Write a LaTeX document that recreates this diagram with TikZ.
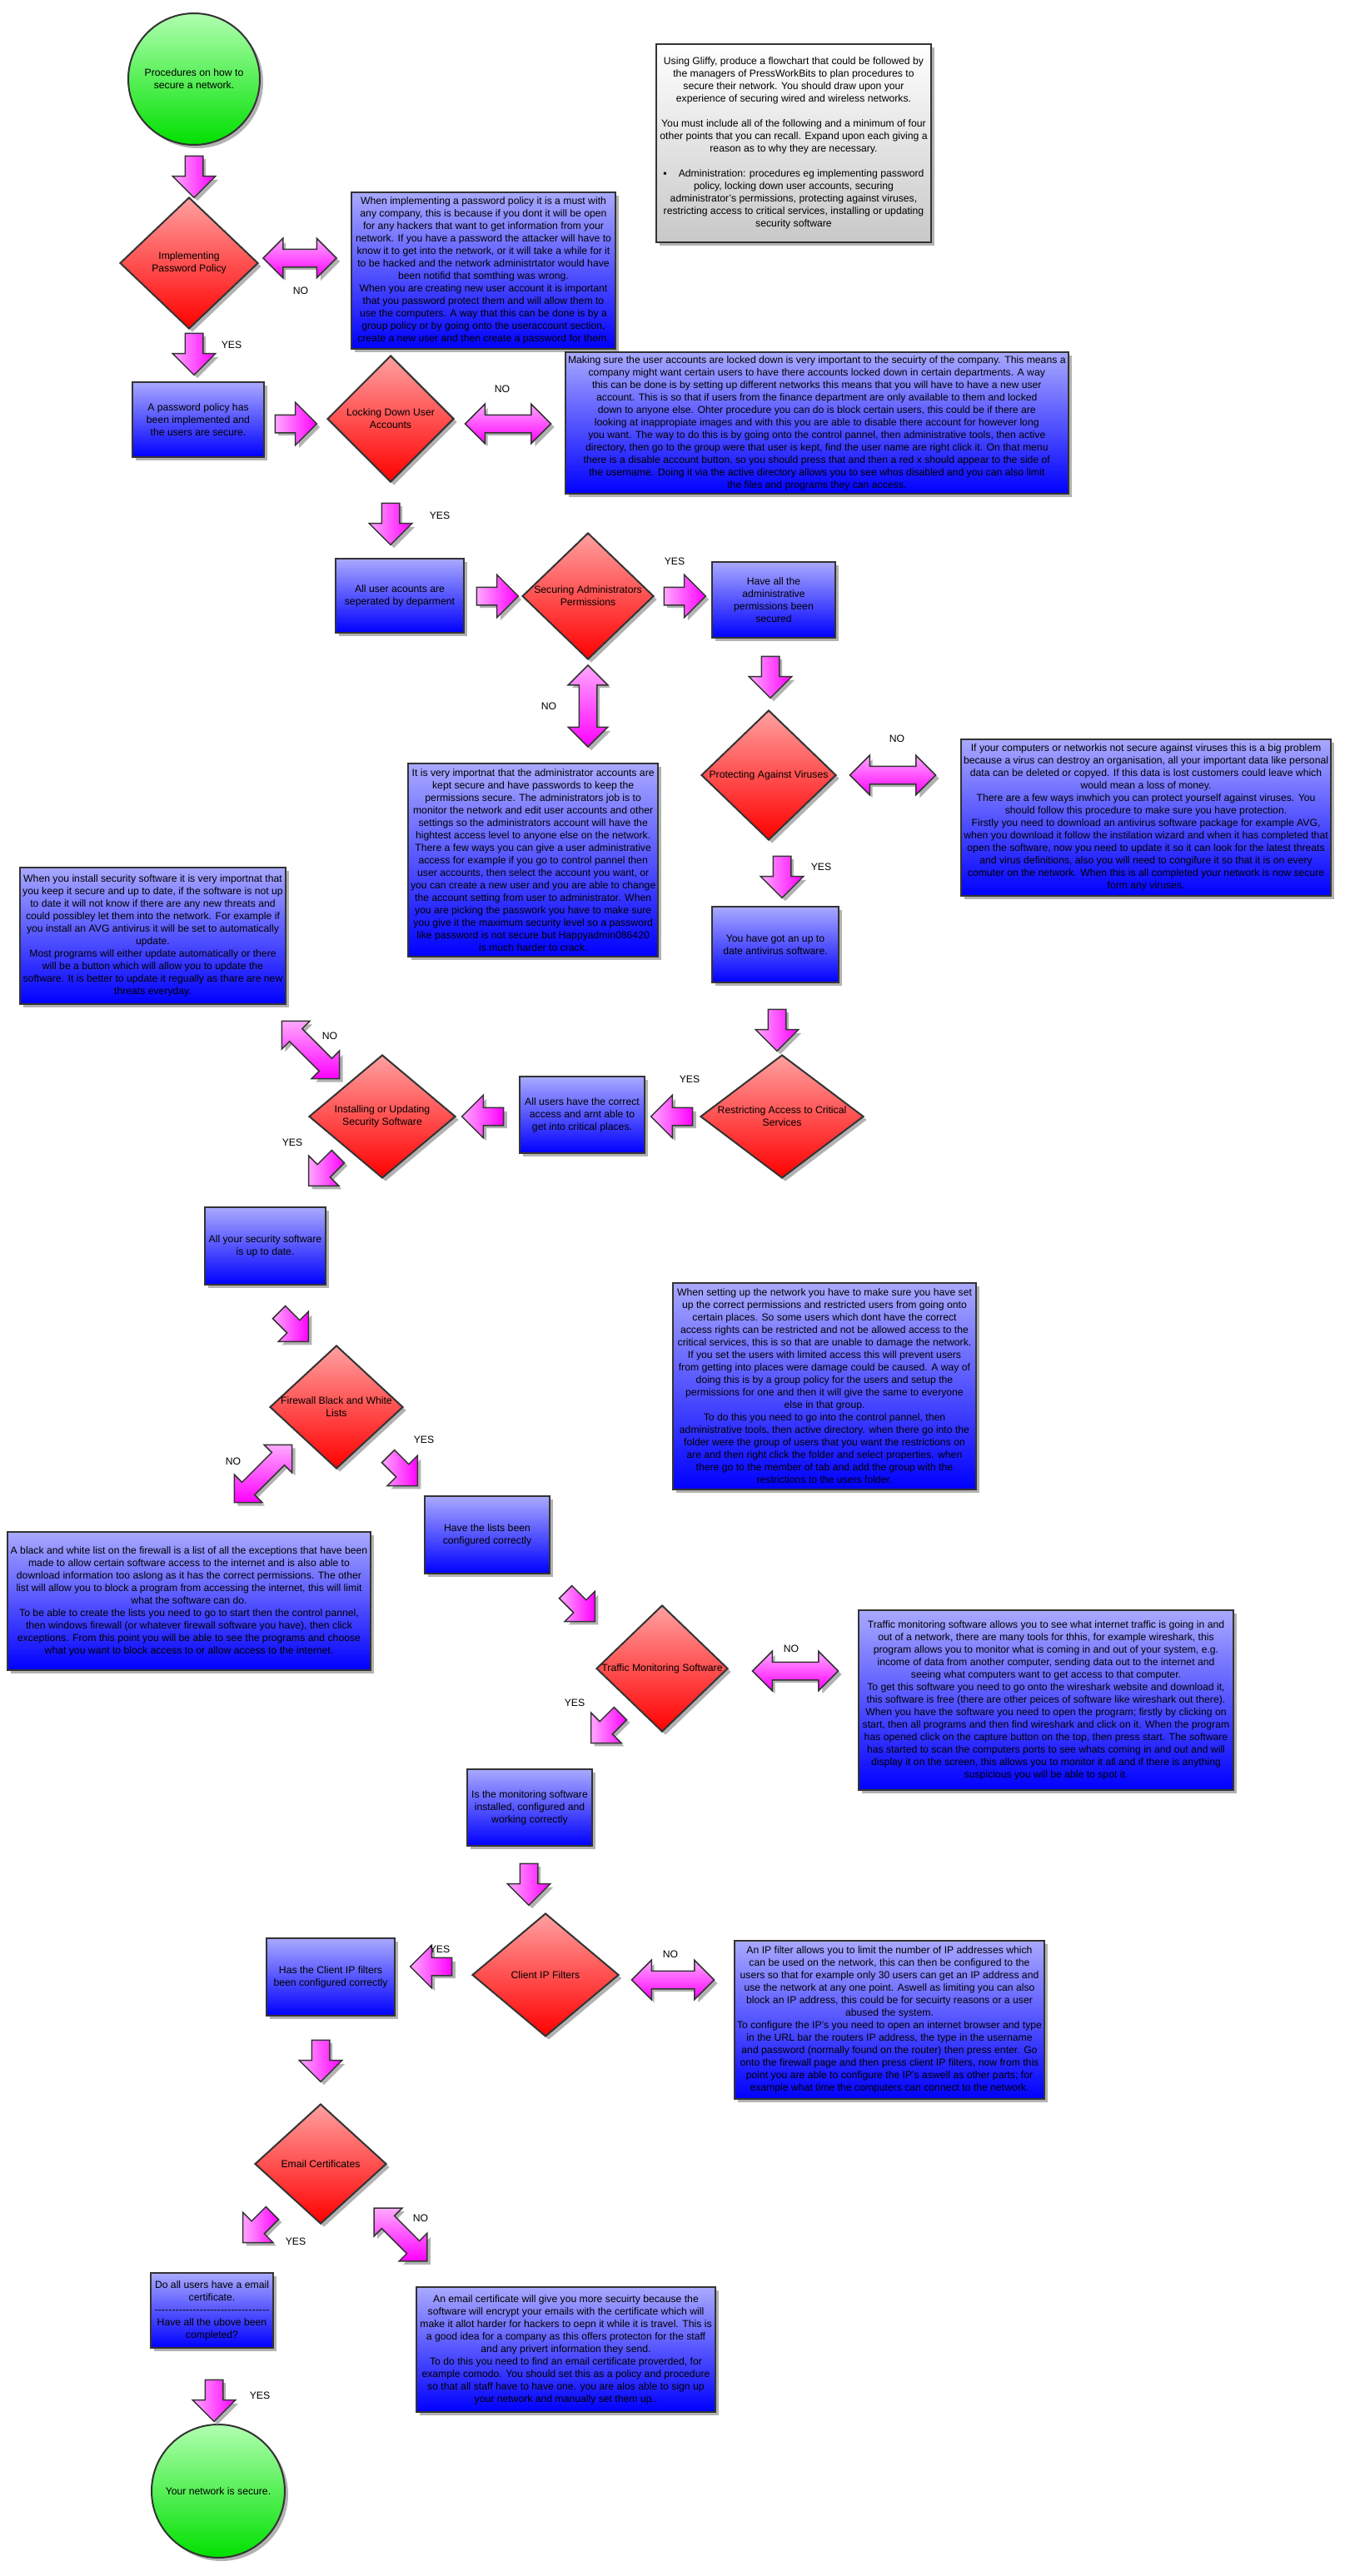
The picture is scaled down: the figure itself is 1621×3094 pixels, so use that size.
\documentclass[tikz,border=0pt]{standalone}
\usepackage{fontspec}
\setmainfont{Liberation Sans}
\usetikzlibrary{shapes.geometric}
\usetikzlibrary{shapes.arrows}
\usetikzlibrary{shadows}

\definecolor{edge}{HTML}{333333}
\definecolor{boxtop}{HTML}{A9A9FF}
\definecolor{boxbot}{HTML}{0000FF}
\definecolor{redtop}{HTML}{FFA0A0}
\definecolor{redbot}{HTML}{FF0000}
\definecolor{greentop}{HTML}{B0FFB0}
\definecolor{greenbot}{HTML}{00E000}
\definecolor{pinktop}{HTML}{FFA8FF}
\definecolor{pinkbot}{HTML}{FF00FF}
\definecolor{notebot}{HTML}{C8C8C8}

\newcommand{\flowfont}{\fontsize{12.2}{15}\selectfont}

\begin{document}
\begin{tikzpicture}[x=1pt,y=-1pt,
        every node/.style={font=\flowfont},
        shadowed/.style={drop shadow={shadow xshift=4pt,shadow yshift=-4pt,fill=black!30,opacity=1}},
        infobox/.style={rectangle,draw=edge,line width=2pt,top color=boxtop,bottom color=boxbot,
            align=center,inner sep=3pt,anchor=north west,shadowed},
        stepbox/.style={infobox},
        note/.style={rectangle,draw=edge,line width=2pt,top color=white,bottom color=notebot,
            align=center,inner sep=3pt,anchor=north west,shadowed},
        decision/.style={diamond,draw=edge,line width=2pt,top color=redtop,bottom color=redbot,
            inner sep=0pt,shadowed},
        dtext/.style={align=center,font=\flowfont},
        terminal/.style={circle,draw=edge,line width=2pt,top color=greentop,bottom color=greenbot,
            align=center,minimum size=158pt,inner sep=0pt,shadowed},
        sarrowshape/.style={single arrow,minimum height=50pt,
            single arrow head extend=15pt,inner xsep=0pt,inner ysep=10pt},
        sarrow/.style={sarrowshape,draw=edge,line width=1.5pt,left color=pinktop,right color=pinkbot},
        darrowshape/.style={double arrow,double arrow head extend=13pt,inner xsep=0pt,inner ysep=10pt},
        darrow/.style={darrowshape,draw=edge,line width=1.5pt,top color=pinktop,bottom color=pinkbot},
        ghost/.style={fill=black!30},
        tag/.style={font=\flowfont}]

        \useasboundingbox (0,0) rectangle (1621,3094);
        \fill[white] (0,0) rectangle (1621,3094);

        % start and end of the chart
        \node[terminal] (start) at (233,95) {Procedures on how to\\secure a network.};
        \node[terminal,minimum size=160pt] (finish) at (262,2992) {Your network is secure.};

        % the task given
        \node[note,minimum width=330pt,minimum height=238pt] (task) at (787,52) {Using Gliffy, produce a flowchart that could be followed by\\
            the managers of PressWorkBits to plan procedures to\\
            secure their network. You should draw upon your\\
            experience of securing wired and wireless networks.\\[15pt]
            You must include all of the following and a minimum of four\\
            other points that you can recall. Expand upon each giving a\\
            reason as to why they are necessary.\\[15pt]
            ▪\hspace{14pt}Administration: procedures eg implementing password\\
            policy, locking down user accounts, securing\\
            administrator's permissions, protecting against viruses,\\
            restricting access to critical services, installing or updating\\
            security software};

        % the decisions
        \node[decision,minimum width=166pt,minimum height=158pt,label={[dtext]center:{Implementing\\Password Policy}}] (d1) at (227,316) {};
        \node[decision,minimum width=152pt,minimum height=152pt,label={[dtext]center:{Locking Down User\\Accounts}}] (d2) at (469,503) {};
        \node[decision,minimum width=158pt,minimum height=152pt,label={[dtext]center:{Securing Administrators\\Permissions}}] (d3) at (706,716) {};
        \node[decision,minimum width=162pt,minimum height=156pt,label={[dtext]center:{Protecting Against Viruses}}] (d4) at (923,931) {};
        \node[decision,minimum width=196pt,minimum height=148pt,label={[dtext]center:{Restricting Access to Critical\\Services}}] (d5) at (939,1341) {};
        \node[decision,minimum width=176pt,minimum height=148pt,label={[dtext]center:{Installing or Updating\\Security Software}}] (d6) at (459,1341) {};
        \node[decision,minimum width=160pt,minimum height=148pt,label={[dtext]center:{Firewall Black and White\\Lists}}] (d7) at (404,1690) {};
        \node[decision,minimum width=158pt,minimum height=152pt,label={[dtext]center:{Traffic Monitoring Software}}] (d8) at (795,2004) {};
        \node[decision,minimum width=176pt,minimum height=148pt,label={[dtext]center:{Client IP Filters}}] (d9) at (655,2372) {};
        \node[decision,minimum width=158pt,minimum height=144pt,label={[dtext]center:{Email Certificates}}] (d10) at (385,2599) {};

        % the results of each step
        \node[stepbox,minimum width=158pt,minimum height=90pt] (r1) at (158,458) {A password policy has\\been implemented and\\the users are secure.};
        \node[stepbox,minimum width=154pt,minimum height=89pt] (r2) at (402,670) {All user acounts are\\seperated by deparment};
        \node[stepbox,minimum width=148pt,minimum height=91pt] (r3) at (854,674) {Have all the\\administrative\\permissions been\\secured};
        \node[stepbox,minimum width=152pt,minimum height=91pt] (r4) at (854,1088) {You have got an up to\\date antivirus software.};
        \node[stepbox,minimum width=150pt,minimum height=92pt] (r5) at (623,1292) {All users have the correct\\access and arnt able to\\get into critical places.};
        \node[stepbox,minimum width=145pt,minimum height=93pt] (r6) at (245,1449) {All your security software\\is up to date.};
        \node[stepbox,minimum width=150pt,minimum height=93pt] (r7) at (509,1796) {Have the lists been\\configured correctly};
        \node[stepbox,minimum width=150pt,minimum height=92pt] (r8) at (560,2124) {Is the monitoring software\\installed, configured and\\working correctly};
        \node[stepbox,minimum width=154pt,minimum height=93pt] (r9) at (319,2327) {Has the Client IP filters\\been configured correctly};
        \node[stepbox,minimum width=147pt,minimum height=90pt] (r10) at (180,2729) {Do all users have a email\\certificate.\\
            \makebox[138pt]{\xleaders\hbox{-}\hfill}\\
            Have all the ubove been\\completed?};

        % the explanations
        \node[infobox,minimum width=317pt,minimum height=188pt] (t1) at (421,230) {When implementing a password policy it is a must with\\
            any company, this is because if you dont it will be open\\
            for any hackers that want to get information from your\\
            network. If you have a password the attacker will have to\\
            know it to get into the network, or it will take a while for it\\
            to be hacked and the network administrtator would have\\
            been notifid that somthing was wrong.\\
            When you are creating new user account it is important\\
            that you password protect them and will allow them to\\
            use the computers. A way that this can be done is by a\\
            group policy or by going onto the useraccount section,\\
            create a new user and then create a password for them.};
        \node[infobox,minimum height=170pt] (t2) at (678,422) {Making sure the user accounts are locked down is very important to the secuirty of the company. This means a\\
            company might want certain users to have there accounts locked down in certain departments. A way\\
            this can be done is by setting up different networks this means that you will have to have a new user\\
            account. This is so that if users from the finance department are only available to them and locked\\
            down to anyone else. Ohter procedure you can do is block certain users, this could be if there are\\
            looking at inappropiate images and with this you are able to disable there account for however long\\
            you want. The way to do this is by going onto the control pannel, then administrative tools, then active\\
            directory, then go to the group were that user is kept, find the user name are right click it. On that menu\\
            there is a disable account button, so you should press that and then a red x should appear to the side of\\
            the username. Doing it via the active directory allows you to see whos disabled and you can also limit\\
            the files and programs they can access.};
        \node[infobox,minimum width=300pt,minimum height=232pt] (t3) at (489,916) {It is very importnat that the administrator accounts are\\
            kept secure and have passwords to keep the\\
            permissions secure. The administrators job is to\\
            monitor the network and edit user accounts and other\\
            settings so the administrators account will have the\\
            hightest access level to anyone else on the network.\\
            There a few ways you can give a user administrative\\
            access for example if you go to control pannel then\\
            user accounts, then select the account you want, or\\
            you can create a new user and you are able to change\\
            the account setting from user to administrator. When\\
            you are picking the passwork you have to make sure\\
            you give it the maximum security level so a password\\
            like password is not secure but Happyadmin086420\\
            is much harder to crack.};
        \node[infobox,minimum height=188pt] (t4) at (1153,887) {If your computers or networkis not secure against viruses this is a big problem\\
            because a virus can destroy an organisation, all your important data like personal\\
            data can be deleted or copyed. If this data is lost customers could leave which\\
            would mean a loss of money.\\
            There are a few ways inwhich you can protect yourself against viruses. You\\
            should follow this procedure to make sure you have protection.\\
            Firstly you need to download an antivirus software package for example AVG,\\
            when you download it follow the instilation wizard and when it has completed that\\
            open the software, now you need to update it so it can look for the latest threats\\
            and virus definitions, also you will need to congifure it so that it is on every\\
            comuter on the network. When this is all completed your network is now secure\\
            form any viruses.};
        \node[infobox,minimum width=319pt,minimum height=164pt] (t5) at (23,1041) {When you install security software it is very importnat that\\
            you keep it secure and up to date, if the software is not up\\
            to date it will not know if there are any new threats and\\
            could possibley let them into the network. For example if\\
            you install an AVG antivirus it will be set to automatically\\
            update.\\
            Most programs will either update automatically or there\\
            will be a button which will allow you to update the\\
            software. It is better to update it regually as thare are new\\
            threats everyday.};
        \node[infobox,minimum width=364pt,minimum height=248pt] (t6) at (807,1540) {When setting up the network you have to make sure you have set\\
            up the correct permissions and restricted users from going onto\\
            certain places. So some users which dont have the correct\\
            access rights can be restricted and not be allowed access to the\\
            critical services, this is so that are unable to damage the network.\\
            If you set the users with limited access this will prevent users\\
            from getting into places were damage could be caused. A way of\\
            doing this is by a group policy for the users and setup the\\
            permissions for one and then it will give the same to everyone\\
            else in that group.\\
            To do this you need to go into the control pannel, then\\
            administrative tools, then active directory. when there go into the\\
            folder were the group of users that you want the restrictions on\\
            are and then right click the folder and select properties. when\\
            there go to the member of tab and add the group with the\\
            restrictions to the users folder.};
        \node[infobox,minimum width=436pt,minimum height=166pt] (t7) at (8,1839) {A black and white list on the firewall is a list of all the exceptions that have been\\
            made to allow certain software access to the internet and is also able to\\
            download information too aslong as it has the correct permissions. The other\\
            list will allow you to block a program from accessing the internet, this will limit\\
            what the software can do.\\
            To be able to create the lists you need to go to start then the control pannel,\\
            then windows firewall (or whatever firewall software you have), then click\\
            exceptions. From this point you will be able to see the programs and choose\\
            what you want to block access to or allow access to the internet.};
        \node[infobox,minimum width=450pt,minimum height=216pt] (t8) at (1030,1933) {Traffic monitoring software allows you to see what internet traffic is going in and\\
            out of a network, there are many tools for thhis, for example wireshark, this\\
            program allows you to monitor what is coming in and out of your system, e.g.\\
            income of data from another computer, sending data out to the internet and\\
            seeing what computers want to get access to that computer.\\
            To get this software you need to go onto the wireshark website and download it,\\
            this software is free (there are other peices of software like wireshark out there).\\
            When you have the software you need to open the program; firstly by clicking on\\
            start, then all programs and then find wireshark and click on it. When the program\\
            has opened click on the capture button on the top, then press start. The software\\
            has started to scan the computers ports to see whats coming in and out and will\\
            display it on the screen, this allows you to monitor it all and if there is anything\\
            suspicious you will be able to spot it.};
        \node[infobox,minimum width=371pt,minimum height=190pt] (t9) at (881,2330) {An IP filter allows you to limit the number of IP addresses which\\
            can be used on the network, this can then be configured to the\\
            users so that for example only 30 users can get an IP address and\\
            use the network at any one point. Aswell as limiting you can also\\
            block an IP address, this could be for secuirty reasons or a user\\
            abused the system.\\
            To configure the IP's you need to open an internet browser and type\\
            in the URL bar the routers IP address, the type in the username\\
            and password (normally found on the router) then press enter. Go\\
            onto the firewall page and then press client IP filters, now from this\\
            point you are able to configure the IP's aswell as other parts; for\\
            example what time the computers can connect to the network.};
        \node[infobox,minimum width=359pt,minimum height=150pt] (t10) at (499,2746) {An email certificate will give you more secuirty because the\\
            software will encrypt your emails with the certificate which will\\
            make it allot harder for hackers to oepn it while it is travel. This is\\
            a good idea for a company as this offers protecton for the staff\\
            and any privert information they send.\\
            To do this you need to find an email certificate proverded, for\\
            example comodo. You should set this as a policy and procedure\\
            so that all staff have to have one. you are alos able to sign up\\
            your network and manually set them up..};

        % single block arrows: name/x/y/angle
        \foreach \n/\x/\y/\a in {a1/233/207/-90, a3/233/420/-90, a4/350/509/0,
                a6/469/624/-90, a7/592/716/0, a8/817/716/0, a9/925/808/-90,
                a12/939/1048/-90, a13/933/1232/-90, a14/812/1341/180, a15/585/1341/180,
                a17/392/1403/-135, a18/349/1590/-45, a20/480/1763/-45, a21/693/1926/-45,
                a23/731/2072/-135, a24/635/2258/-90, a25/523/2362/180, a27/385/2470/-90,
                a28/313/2672/-135, a30/257/2878/-90} {
                \node[sarrowshape,ghost,rotate=\a] at (\x+4,\y+4) {};
                \node[sarrow,rotate=\a] (\n) at (\x,\y) {};
        }

        % double block arrows: name/x/y/angle/length
        \foreach \n/\x/\y/\a/\l in {a2/360/310/0/88, a5/610/509/0/103, a10/1072/931/0/103,
                a11/706/848/90/98, a16/373/1261/-45/98, a19/316/1770/45/98,
                a22/955/2007/0/103, a26/808/2378/0/99, a29/481/2684/-45/90} {
                \node[darrowshape,ghost,rotate=\a,minimum height=\l pt] at (\x+4,\y+4) {};
                \node[darrow,rotate=\a,minimum height=\l pt] (\n) at (\x,\y) {};
        }

        % the yes and no answers
        \foreach \n/\x/\y/\t in {n1/361/349/NO, y1/278/414/YES, n2/603/467/NO, y2/528/619/YES,
                y3/810/674/YES, n3/659/848/NO, n4/1077/887/NO, y4/986/1041/YES,
                y5/828/1296/YES, n5/396/1244/NO, y6/351/1372/YES, n6/280/1755/NO,
                y7/509/1729/YES, n7/950/1980/NO, y8/690/2045/YES, y9/528/2341/YES,
                n8/805/2347/NO, y10/355/2692/YES, n9/505/2664/NO, y11/312/2877/YES}
                \node[tag] (\n) at (\x,\y) {\t};
\end{tikzpicture}
\end{document}
